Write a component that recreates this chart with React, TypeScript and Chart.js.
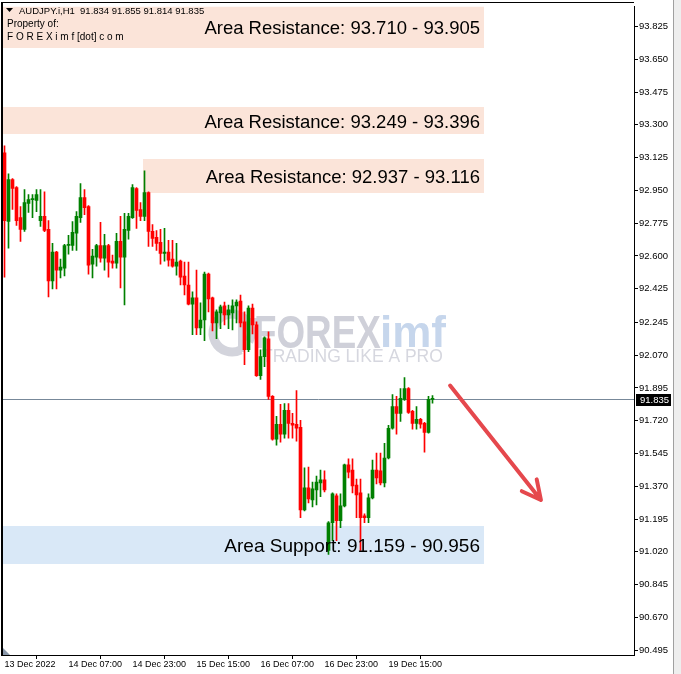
import React, { useEffect, useRef } from 'react';
import { Chart, registerables } from 'chart.js';

Chart.register(...registerables);

// ---------- data ----------
const symbolTitle = 'AUDJPY.i,H1  91.834 91.855 91.814 91.835';
const ownerLines = ['Property of:', 'F O R E X i m f [dot] c o m'];

const xTickIndex = [0, 16, 32, 48, 64, 80, 96];
const xTickLabels = ['13 Dec 2022', '14 Dec 07:00', '14 Dec 23:00', '15 Dec 15:00', '16 Dec 07:00', '16 Dec 23:00', '19 Dec 15:00'];

const yTickValues = [93.825, 93.65, 93.475, 93.3, 93.125, 92.95, 92.775, 92.6, 92.425, 92.245, 92.07, 91.895, 91.72, 91.545, 91.37, 91.195, 91.02, 90.845, 90.67, 90.495];

const opens = [
  93.151, 92.784, 93.008, 92.965, 92.805, 92.742, 92.880, 92.901, 92.896, 92.789,
  92.811, 92.742, 92.466, 92.620, 92.524, 92.535, 92.656, 92.656, 92.721, 92.805,
  92.912, 92.864, 92.556, 92.593, 92.656, 92.588, 92.656, 92.572, 92.561, 92.678,
  92.593, 92.736, 92.805, 92.960, 92.848, 92.811, 92.938, 92.731, 92.699, 92.673,
  92.614, 92.620, 92.583, 92.546, 92.572, 92.493, 92.445, 92.343, 92.376, 92.216,
  92.258, 92.503, 92.376, 92.242, 92.296, 92.333, 92.285, 92.296, 92.333, 92.359,
  92.248, 92.099, 92.322, 92.232, 91.961, 92.062, 92.158, 91.850, 91.621, 91.701,
  91.648, 91.775, 91.706, 91.701, 91.685, 91.244, 91.362, 91.297, 91.351, 91.388,
  91.404, 91.027, 91.175, 91.319, 91.186, 91.265, 91.484, 91.457, 91.377, 91.335,
  91.212, 91.202, 91.308, 91.457, 91.452, 91.388, 91.521, 91.680, 91.796, 91.759,
  91.834, 91.892, 91.770, 91.706, 91.727, 91.706, 91.658, 91.834,
];
const highs = [
  93.188, 93.039, 93.013, 92.970, 92.864, 92.954, 92.928, 92.928, 92.954, 92.954,
  92.943, 92.789, 92.667, 92.625, 92.583, 92.662, 92.710, 92.784, 92.837, 92.986,
  92.954, 92.869, 92.635, 92.662, 92.779, 92.715, 92.662, 92.604, 92.721, 92.811,
  92.827, 92.827, 92.981, 92.965, 92.885, 93.055, 92.943, 92.768, 92.736, 92.742,
  92.747, 92.683, 92.683, 92.667, 92.578, 92.567, 92.567, 92.408, 92.524, 92.349,
  92.514, 92.508, 92.381, 92.312, 92.338, 92.354, 92.338, 92.365, 92.365, 92.391,
  92.301, 92.333, 92.343, 92.248, 92.099, 92.168, 92.195, 91.855, 91.743, 91.807,
  91.812, 91.812, 91.759, 91.881, 91.722, 91.468, 91.473, 91.393, 91.425, 91.457,
  91.452, 91.181, 91.335, 91.330, 91.330, 91.489, 91.516, 91.516, 91.409, 91.409,
  91.223, 91.330, 91.510, 91.547, 91.547, 91.600, 91.696, 91.860, 91.850, 91.892,
  91.950, 91.897, 91.775, 91.796, 91.733, 91.712, 91.850, 91.855,
];
const lows = [
  92.487, 92.641, 92.848, 92.763, 92.678, 92.731, 92.832, 92.805, 92.837, 92.758,
  92.730, 92.381, 92.424, 92.424, 92.482, 92.493, 92.609, 92.630, 92.630, 92.779,
  92.821, 92.503, 92.482, 92.546, 92.567, 92.524, 92.487, 92.535, 92.535, 92.429,
  92.338, 92.689, 92.800, 92.747, 92.789, 92.789, 92.651, 92.651, 92.630, 92.556,
  92.572, 92.546, 92.540, 92.498, 92.445, 92.392, 92.338, 92.179, 92.179, 92.179,
  92.148, 92.301, 92.200, 92.158, 92.211, 92.232, 92.211, 92.205, 92.242, 92.221,
  92.020, 92.089, 92.184, 91.956, 91.940, 92.009, 91.834, 91.616, 91.590, 91.605,
  91.627, 91.627, 91.627, 91.611, 91.202, 91.239, 91.281, 91.260, 91.271, 91.314,
  91.340, 91.006, 91.080, 91.080, 91.149, 91.260, 91.415, 91.335, 91.202, 91.027,
  91.175, 91.175, 91.303, 91.382, 91.377, 91.367, 91.516, 91.675, 91.648, 91.717,
  91.828, 91.759, 91.675, 91.675, 91.680, 91.552, 91.653, 91.814,
];
const closes = [
  92.789, 93.008, 92.960, 92.789, 92.742, 92.885, 92.901, 92.906, 92.928, 92.811,
  92.736, 92.466, 92.620, 92.524, 92.540, 92.656, 92.662, 92.726, 92.811, 92.912,
  92.858, 92.551, 92.599, 92.656, 92.588, 92.656, 92.567, 92.561, 92.678, 92.593,
  92.742, 92.811, 92.965, 92.843, 92.811, 92.938, 92.731, 92.694, 92.667, 92.614,
  92.620, 92.577, 92.546, 92.567, 92.487, 92.445, 92.343, 92.376, 92.216, 92.258,
  92.503, 92.370, 92.242, 92.301, 92.328, 92.285, 92.312, 92.333, 92.354, 92.242,
  92.099, 92.322, 92.232, 91.961, 92.062, 92.163, 91.850, 91.621, 91.701, 91.648,
  91.775, 91.706, 91.696, 91.680, 91.244, 91.362, 91.303, 91.357, 91.393, 91.404,
  91.351, 91.175, 91.330, 91.186, 91.265, 91.484, 91.446, 91.372, 91.324, 91.202,
  91.202, 91.308, 91.457, 91.415, 91.388, 91.521, 91.680, 91.796, 91.759, 91.839,
  91.892, 91.765, 91.706, 91.727, 91.701, 91.658, 91.834, 91.835,
];

const lastPrice = 91.835;

const zoneLabels = [
  'Area Resistance: 93.710 - 93.905',
  'Area Resistance: 93.249 - 93.396',
  'Area Resistance: 92.937 - 93.116',
  'Area Support: 91.159 - 90.956',
];
// first rectangle runs past the top of the view
const zoneHigh = [93.94, 93.396, 93.116, 91.159];
const zoneLow = [93.71, 93.249, 92.937, 90.956];
const zoneStart: (number | null)[] = [null, null, 35, null];
const zoneEnd = [120, 120, 120, 120];
const zoneKind = ['resistance', 'resistance', 'resistance', 'support'];

const arrowStart = [111.4, 91.908];
const arrowEnd = [134.1, 91.297];

// ---------- drawing helpers ----------
const FONT = '"Liberation Sans", Arial, sans-serif';

const overlayPlugin = {
  id: 'overlay',
  beforeDatasetsDraw(chart: any) {
    const { ctx, chartArea: ca, scales } = chart;
    const x = scales.x, y = scales.y;
    ctx.save();
    ctx.beginPath();
    ctx.rect(ca.left, ca.top, ca.right - ca.left, ca.bottom - ca.top);
    ctx.clip();
    // zones
    zoneHigh.forEach((hi, k) => {
      const s = zoneStart[k];
      const x1 = s === null ? ca.left : x.getPixelForValue(s) - 1.5;
      const x2 = x.getPixelForValue(zoneEnd[k]) - 0.5;
      const y1 = Math.round(y.getPixelForValue(hi));
      const y2 = Math.round(y.getPixelForValue(zoneLow[k]));
      ctx.fillStyle = zoneKind[k] === 'support' ? '#d9e8f7' : '#fbe4d9';
      ctx.fillRect(x1, y1, x2 - x1, y2 - y1);
    });
    // watermark
    ctx.strokeStyle = '#d3d4dc';
    ctx.lineWidth = 9;
    ctx.beginPath();
    ctx.arc(232, 333, 19, 0.35 * Math.PI, 2.15 * Math.PI);
    ctx.stroke();
    ctx.fillStyle = '#d3d4dc';
    ctx.fillRect(238, 318, 20, 7);
    ctx.fillRect(238, 318, 7, 34);
    ctx.save();
    ctx.translate(254, 348);
    ctx.scale(0.8, 1);
    ctx.font = `bold 46px ${FONT}`;
    ctx.textBaseline = 'alphabetic';
    ctx.textAlign = 'left';
    ctx.fillStyle = '#cfd0d9';
    ctx.fillText('FOREX', 0, 0);
    ctx.restore();
    ctx.font = `bold 44px ${FONT}`;
    ctx.fillStyle = '#c6d6ec';
    ctx.textAlign = 'left';
    ctx.fillText('imf', 380, 347);
    ctx.font = `17.5px ${FONT}`;
    ctx.fillStyle = '#d6d7df';
    ctx.fillText('TRADING LIKE A PRO', 262, 362);
    // price line
    const py = Math.round(y.getPixelForValue(lastPrice)) + 0.5;
    ctx.strokeStyle = '#778899';
    ctx.lineWidth = 1;
    ctx.beginPath();
    ctx.moveTo(ca.left, py);
    ctx.lineTo(ca.right, py);
    ctx.stroke();
    ctx.restore();
  },
  afterDatasetsDraw(chart: any) {
    const { ctx, chartArea: ca, scales } = chart;
    const x = scales.x, y = scales.y;
    ctx.save();
    ctx.beginPath();
    ctx.rect(ca.left, ca.top, ca.right - ca.left, ca.bottom - ca.top);
    ctx.clip();
    // zone labels
    ctx.fillStyle = '#000';
    ctx.textAlign = 'right';
    ctx.textBaseline = 'middle';
    zoneLabels.forEach((t, k) => {
      ctx.font = zoneKind[k] === 'support' ? `19px ${FONT}` : `18.5px ${FONT}`;
      const y1 = Math.max(ca.top, y.getPixelForValue(zoneHigh[k]));
      const y2 = y.getPixelForValue(zoneLow[k]);
      ctx.fillText(t, x.getPixelForValue(zoneEnd[k]) - 4.5, (y1 + y2) / 2 + 2);
    });
    // arrow
    const ax1 = x.getPixelForValue(arrowStart[0]);
    const ay1 = y.getPixelForValue(arrowStart[1]);
    const ax2 = x.getPixelForValue(arrowEnd[0]);
    const ay2 = y.getPixelForValue(arrowEnd[1]);
    ctx.strokeStyle = '#e5484d';
    ctx.lineWidth = 4;
    ctx.lineCap = 'round';
    ctx.lineJoin = 'round';
    ctx.beginPath();
    ctx.moveTo(ax1, ay1);
    ctx.lineTo(ax2, ay2);
    const ang = Math.atan2(ay2 - ay1, ax2 - ax1);
    const hl = 21;
    ctx.moveTo(ax2 - hl * Math.cos(ang - 0.47), ay2 - hl * Math.sin(ang - 0.47));
    ctx.lineTo(ax2, ay2);
    ctx.lineTo(ax2 - hl * Math.cos(ang + 0.47), ay2 - hl * Math.sin(ang + 0.47));
    ctx.stroke();
    ctx.restore();
  },
  afterDraw(chart: any) {
    const { ctx, chartArea: ca, scales } = chart;
    const y = scales.y;
    ctx.save();
    // frame (left and top)
    ctx.fillStyle = '#000';
    ctx.fillRect(1, 2, 2, ca.bottom - 1);
    ctx.fillRect(1, 2, ca.right - 1, 1);
    // shift marker
    ctx.fillStyle = '#8a98aa';
    ctx.beginPath();
    ctx.moveTo(3, ca.bottom - 7);
    ctx.lineTo(3, ca.bottom);
    ctx.lineTo(10, ca.bottom);
    ctx.closePath();
    ctx.fill();
    // header
    ctx.fillStyle = '#000';
    ctx.beginPath();
    ctx.moveTo(6, 8);
    ctx.lineTo(13, 8);
    ctx.lineTo(9.5, 12);
    ctx.closePath();
    ctx.fill();
    ctx.textAlign = 'left';
    ctx.textBaseline = 'middle';
    ctx.font = `9.5px ${FONT}`;
    ctx.fillText(symbolTitle, 19, 11);
    ctx.font = `10px ${FONT}`;
    ctx.fillText(ownerLines[0], 7, 24);
    ctx.fillText(ownerLines[1], 7, 37);
    // last price label
    const py = Math.round(y.getPixelForValue(lastPrice));
    ctx.fillStyle = '#000';
    ctx.fillRect(ca.right + 2, py - 5, 35, 12);
    ctx.fillStyle = '#fff';
    ctx.font = `9.5px ${FONT}`;
    ctx.fillText(lastPrice.toFixed(3), ca.right + 6, py + 1);
    // right window edge
    ctx.fillStyle = '#eeeeee';
    ctx.fillRect(674, 0, 7, 674);
    ctx.fillStyle = '#a0a0a0';
    ctx.fillRect(673, 0, 1, 674);
    ctx.restore();
  },
};

export default function App() {
  const ref = useRef<HTMLCanvasElement>(null);
  useEffect(() => {
    const canvas = ref.current;
    if (!canvas) return;
    const up = '#008000';
    const down = '#ff0000';
    const barColors = opens.map((o, i) => (closes[i] >= o ? up : down));
    const chart = new Chart(canvas, {
      type: 'bar',
      data: {
        datasets: [
          {
            label: 'body',
            data: opens.map((o, i) => ({ x: i, y: [o, closes[i]] })) as any,
            backgroundColor: barColors,
            barThickness: 3,
            grouped: false,
            minBarLength: 1,
            borderWidth: 0,
          },
          {
            label: 'wick',
            data: lows.map((l, i) => ({ x: i, y: [l, highs[i]] })) as any,
            backgroundColor: barColors,
            barThickness: 1,
            grouped: false,
            borderWidth: 0,
          },
        ],
      },
      options: {
        responsive: false,
        animation: false,
        devicePixelRatio: 1,
        events: [],
        layout: { padding: { left: 3, top: 3, right: 0, bottom: 0 } },
        plugins: { legend: { display: false }, tooltip: { enabled: false } },
        scales: {
          x: {
            type: 'linear',
            offset: false,
            min: -0.375,
            max: 157.375,
            afterBuildTicks: (s: any) => {
              s.ticks = xTickIndex.map((v) => ({ value: v }));
            },
            afterFit: (s: any) => {
              s.height = 19;
            },
            grid: { drawOnChartArea: false, drawTicks: true, tickLength: 4, color: '#000' },
            border: { display: true, color: '#000', width: 1 },
            ticks: {
              autoSkip: false,
              maxRotation: 0,
              align: 'start',
              padding: 0,
              color: '#000',
              font: { family: FONT, size: 9 },
              callback: (v: any) => {
                const k = xTickIndex.indexOf(Number(v));
                return k >= 0 ? xTickLabels[k] : '';
              },
            },
          },
          y: {
            position: 'right',
            min: 90.469,
            max: 93.931,
            afterBuildTicks: (s: any) => {
              s.ticks = yTickValues.map((v) => ({ value: v }));
            },
            afterFit: (s: any) => {
              s.width = 47;
            },
            grid: { drawOnChartArea: false, drawTicks: true, tickLength: 4, color: '#000' },
            border: { display: true, color: '#000', width: 1 },
            ticks: {
              autoSkip: false,
              padding: 1,
              color: '#000',
              font: { family: FONT, size: 9.5 },
              callback: (v: any) => Number(v).toFixed(3),
            },
          },
        },
      } as any,
      plugins: [overlayPlugin],
    });
    return () => chart.destroy();
  }, []);
  return (
    <div style={{ position: 'absolute', left: 0, top: 0, width: 681, height: 674, background: '#fff' }}>
      <canvas ref={ref} width={681} height={674} style={{ display: 'block' }} />
    </div>
  );
}
